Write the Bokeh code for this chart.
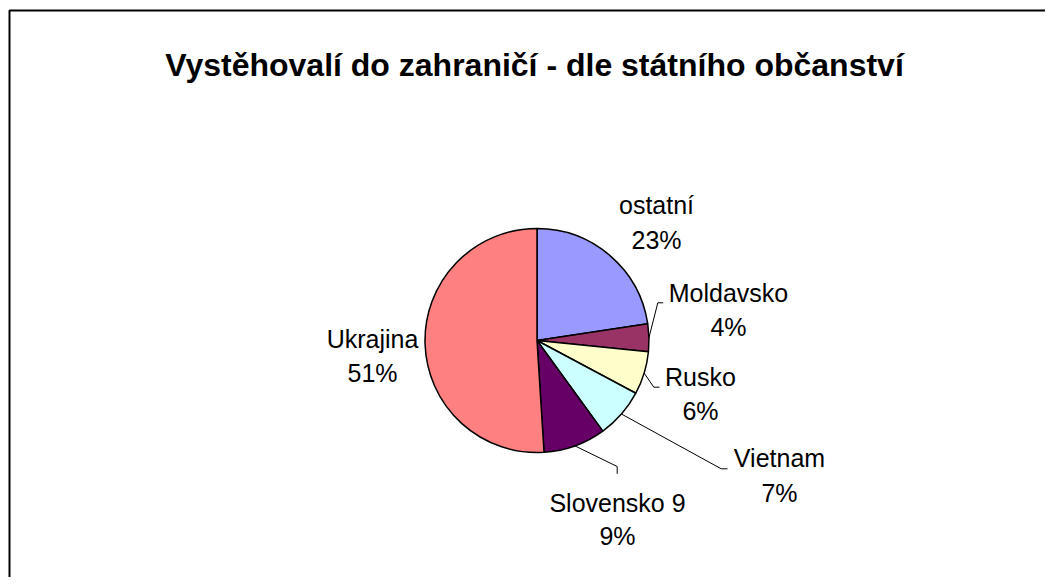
import numpy as np
from bokeh.plotting import figure
from bokeh.models import Range1d, ColumnDataSource
from bokeh.core.properties import value
from bokeh.embed import file_html
from bokeh.resources import INLINE

# ---- data (clockwise from 12 o'clock) ----
categories = ["ostatní", "Moldavsko", "Rusko", "Vietnam", "Slovensko 9", "Ukrajina"]
shares = [22.6, 4.0, 6.2, 7.2, 9.0, 51.0]
colors = ["#9999FF", "#993366", "#FFFFCC", "#CCFFFF", "#660066", "#FF8080"]
title_text = "Vystěhovalí do zahraničí - dle státního občanství"

W, H = 1045, 577


def X(sx):
    return sx


def Y(sy):
    return H - sy


p = figure(width=W, height=H, output_backend="svg", toolbar_location=None,
           x_range=Range1d(0, W), y_range=Range1d(0, H), min_border=0,
           match_aspect=False)
p.axis.visible = False
p.grid.visible = False
p.outline_line_color = None
p.background_fill_color = "white"
p.border_fill_color = "white"

# frame (only top & left are inside the window)
p.line([X(9), X(9), W + 5], [-5, Y(10), Y(10)], line_color="black", line_width=2)

# pie
cx, cy, r = X(536.5), Y(340), 112
vals = np.array(shares, dtype=float)
frac = vals / vals.sum()
ang = frac * 2 * np.pi
ends = np.pi / 2 - np.cumsum(ang)
starts = ends + ang
src = ColumnDataSource(dict(start=starts, end=ends, color=colors, cat=categories))
p.wedge(x=cx, y=cy, radius=r, start_angle="end", end_angle="start",
        fill_color="color", line_color="black", line_width=1.5, source=src)

# labels: name centre x, name baseline, pct baseline (screen px)
label_pos = {
    "ostatní": (656, 204, 239),
    "Moldavsko": (728, 292, 326),
    "Rusko": (700, 376, 410),
    "Vietnam": (779, 457, 492),
    "Slovensko 9": (617, 502, 535),
    "Ukrajina": (372, 338, 372),
}
# leader elbow points (screen px): (elbow, end)
leaders = {
    "Moldavsko": ((657.3, 302.3), (662.7, 302.3)),
    "Rusko": ((653.3, 386.7), (659.0, 386.7)),
    "Vietnam": ((720.7, 468.3), (727.0, 468.3)),
    "Slovensko 9": ((616.7, 466.0), (616.7, 473.3)),
}

mids = (starts + ends) / 2
for i, c in enumerate(categories):
    if c in leaders:
        (ex, ey), (fx, fy) = leaders[c]
        sx0 = cx + r * np.cos(mids[i])
        sy0 = cy + r * np.sin(mids[i])
        p.line([sx0, X(ex), X(fx)], [sy0, Y(ey), Y(fy)], line_color="black",
               line_width=1)

nx, ny, px_, py_, names, pcts = [], [], [], [], [], []
for i, c in enumerate(categories):
    lx, b1, b2 = label_pos[c]
    names.append(c)
    pcts.append(f"{round(frac[i] * 100):d}%")
    nx.append(X(lx)); ny.append(Y(b1))
    px_.append(X(lx)); py_.append(Y(b2))

p.text(x=nx, y=ny, text=names, text_align="center", text_baseline="alphabetic",
       text_font=value("Liberation Sans"), text_font_size="25px", text_color="black")
p.text(x=px_, y=py_, text=pcts, text_align="center", text_baseline="alphabetic",
       text_font=value("Liberation Sans"), text_font_size="25px", text_color="black")

# title
p.text(x=[X(534)], y=[Y(64)], text=[title_text], text_align="center",
       text_baseline="alphabetic", text_font=value("Liberation Sans"),
       text_font_size="32px", text_font_style="bold", text_color="black")

open("out.html", "w").write(file_html(p, INLINE))
